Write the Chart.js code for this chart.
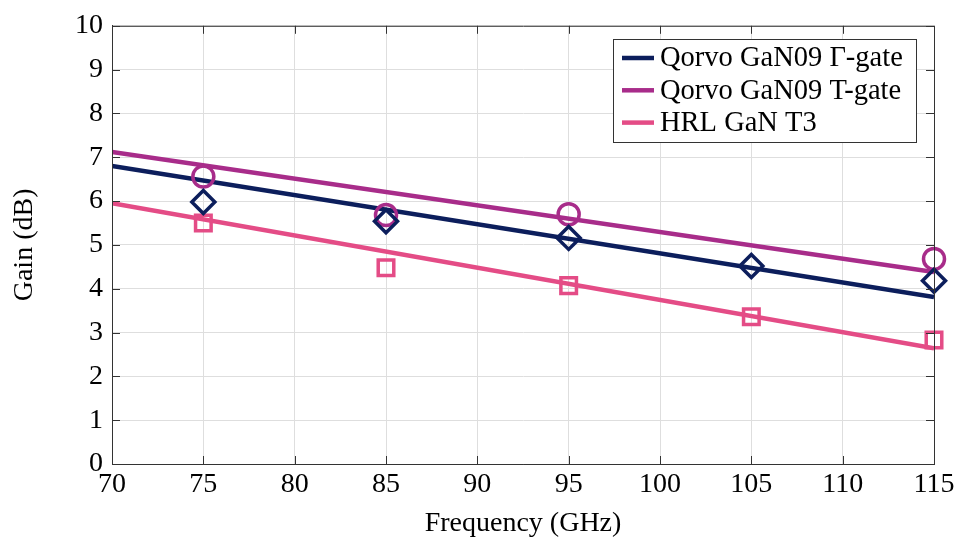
<!DOCTYPE html>
<html>
<head>
<meta charset="utf-8">
<script src="https://cdn.jsdelivr.net/npm/chart.js@4.4.1/dist/chart.umd.min.js"></script>
<style>
  html, body { margin: 0; padding: 0; background: #fff; }
  #gain-chart { display: block; }
</style>
</head>
<body>
<canvas id="gain-chart" width="959" height="542"></canvas>
<script>
/* gain vs frequency */
const seriesNames = ['Qorvo GaN09 \u0393-gate', 'Qorvo GaN09 T-gate', 'HRL GaN T3'];
const seriesColors = ['rgb(12, 30, 92)', 'rgb(168, 44, 138)', 'rgb(228, 76, 134)'];

// measured points
const freqs = [75, 85, 95, 105, 115];
const gammaGain = [5.98, 5.54, 5.16, 4.52, 4.18];
const tGateGain = [6.56, 5.68, 5.70, null, 4.68];
const hrlGain = [5.50, 4.48, 4.07, 3.36, 2.83];

// fitted trend lines
const fitFreqs = [70, 115];
const gammaFit = [6.80, 3.81];
const tGateFit = [7.12, 4.38];
const hrlFit = [5.95, 2.64];

const xTicks = [70, 75, 80, 85, 90, 95, 100, 105, 110, 115];
const yTicks = [0, 1, 2, 3, 4, 5, 6, 7, 8, 9, 10];

const serif = "'Liberation Serif', 'Times New Roman', serif";

function pts(xs, ys) {
  const out = [];
  xs.forEach((x, i) => { if (ys[i] !== null) out.push({ x: x, y: ys[i] }); });
  return out;
}

function fitLine(i, ys) {
  return {
    label: seriesNames[i],
    type: 'line',
    data: pts(fitFreqs, ys),
    borderColor: seriesColors[i],
    backgroundColor: seriesColors[i],
    borderWidth: 4.5,
    pointRadius: 0,
    fill: false,
    order: 2
  };
}

function markers(i, ys, style, r) {
  return {
    label: seriesNames[i] + ' meas',
    type: 'scatter',
    data: pts(freqs, ys),
    showLine: false,
    pointStyle: style,
    pointRadius: r,
    pointHoverRadius: r,
    pointBorderWidth: 3.5,
    pointBorderColor: seriesColors[i],
    pointBackgroundColor: 'rgba(0,0,0,0)',
    clip: false,
    order: 1
  };
}

// inward ticks on all four sides + top/right frame
const framePlugin = {
  id: 'frame',
  afterDatasetsDraw(chart) {
    const { ctx, chartArea: a, scales } = chart;
    const len = 8;
    ctx.save();
    ctx.strokeStyle = '#333';
    ctx.lineWidth = 1;
    ctx.beginPath();
    ctx.rect(a.left + 0.5, a.top + 0.5, a.right - a.left, a.bottom - a.top);
    xTicks.forEach(v => {
      const x = Math.round(scales.x.getPixelForValue(v)) + 0.5;
      ctx.moveTo(x, a.bottom); ctx.lineTo(x, a.bottom - len);
      ctx.moveTo(x, a.top); ctx.lineTo(x, a.top + len);
    });
    yTicks.forEach(v => {
      const y = Math.round(scales.y.getPixelForValue(v)) + 0.5;
      ctx.moveTo(a.left, y); ctx.lineTo(a.left + len, y);
      ctx.moveTo(a.right, y); ctx.lineTo(a.right - len, y);
    });
    ctx.stroke();
    ctx.restore();
  }
};

// boxed legend in the upper right corner
const boxLegend = {
  id: 'boxLegend',
  afterDraw(chart) {
    const { ctx } = chart;
    const x0 = 613, y0 = 39, w = 303, h = 103;
    ctx.save();
    ctx.fillStyle = '#fff';
    ctx.fillRect(x0, y0, w, h);
    ctx.strokeStyle = '#333';
    ctx.lineWidth = 1;
    ctx.strokeRect(x0 + 0.5, y0 + 0.5, w, h);
    ctx.font = '28.5px ' + serif;
    ctx.textBaseline = 'middle';
    seriesNames.forEach((name, i) => {
      const y = 58 + i * 32.3;
      ctx.strokeStyle = seriesColors[i];
      ctx.lineWidth = 4.5;
      ctx.beginPath();
      ctx.moveTo(622, y);
      ctx.lineTo(654, y);
      ctx.stroke();
      ctx.fillStyle = '#000';
      ctx.fillText(name, 660, y + 1);
    });
    ctx.restore();
  }
};

const config = {
  type: 'scatter',
  data: {
    datasets: [
      fitLine(0, gammaFit),
      fitLine(1, tGateFit),
      fitLine(2, hrlFit),
      markers(0, gammaGain, 'rectRot', 11.5),
      markers(1, tGateGain, 'circle', 10.5),
      markers(2, hrlGain, 'rect', 11)
    ]
  },
  options: {
    responsive: false,
    animation: false,
    layout: { padding: { left: 0, right: 25, top: 20, bottom: 0 } },
    plugins: {
      legend: { display: false },
      tooltip: { enabled: false }
    },
    scales: {
      x: {
        type: 'linear',
        min: 70,
        max: 115,
        afterBuildTicks: s => { s.ticks = xTicks.map(v => ({ value: v })); },
        afterFit: s => { s.height = 78; },
        grid: { color: '#dedede', lineWidth: 1, drawTicks: false },
        border: { display: true, color: '#333', width: 1 },
        ticks: {
          color: '#000',
          font: { family: serif, size: 28 },
          padding: 4,
          maxRotation: 0
        },
        title: {
          display: true,
          text: 'Frequency (GHz)',
          color: '#000',
          font: { family: serif, size: 28 },
          padding: { top: 0, bottom: 2 }
        }
      },
      y: {
        min: 0,
        max: 10,
        afterBuildTicks: s => { s.ticks = yTicks.map(v => ({ value: v })); },
        afterFit: s => { s.width = 112; },
        grid: { color: '#dedede', lineWidth: 1, drawTicks: false },
        border: { display: true, color: '#333', width: 1 },
        ticks: {
          color: '#000',
          font: { family: serif, size: 28 },
          padding: 9
        },
        title: {
          display: true,
          text: 'Gain (dB)',
          color: '#000',
          font: { family: serif, size: 28 },
          padding: { top: 8, bottom: 0 }
        }
      }
    }
  },
  plugins: [framePlugin, boxLegend]
};

const gainChart = new Chart(document.getElementById('gain-chart'), config);
</script>
</body>
</html>
